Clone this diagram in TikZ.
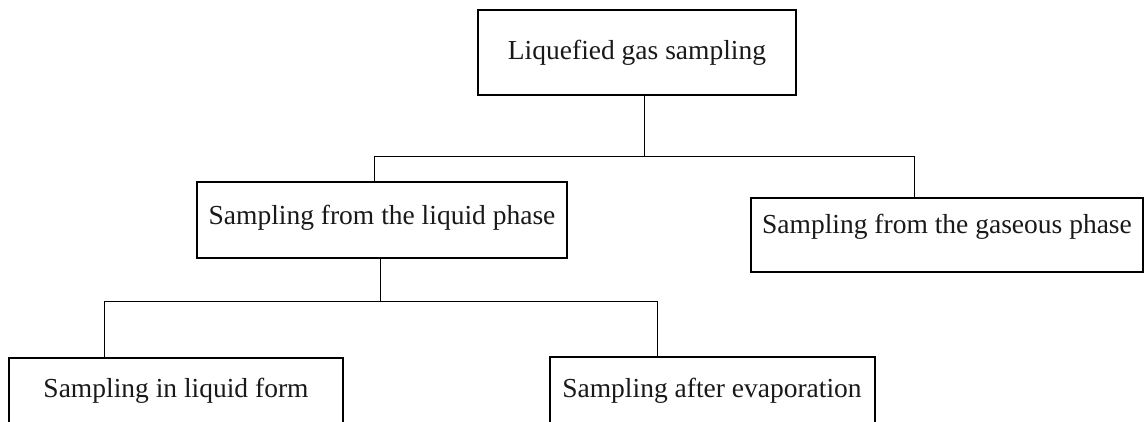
\documentclass[tikz,border=0pt]{standalone}
\usepackage{fontspec}
\setmainfont{Liberation Serif}
\tikzset{
  box/.style={draw=black, line width=2pt, rectangle, inner xsep=0pt, inner ysep=0pt,
    anchor=base, font=\fontsize{27.5pt}{30pt}\selectfont, text=black!90},
  conn/.style={draw=black, line width=1pt}
}
\begin{document}
\begin{tikzpicture}
\useasboundingbox (0pt,0pt) rectangle (1145pt,421pt);
\node[box, minimum width=318pt, text height=50pt, text depth=35pt] (top) at (637pt,361pt) {Liquefied gas sampling};
\node[box, minimum width=370pt, text height=42pt, text depth=34pt] (liq) at (382pt,197pt) {Sampling from the liquid phase};
\node[box, minimum width=392pt, text height=35pt, text depth=39pt] (gas) at (947pt,188pt) {Sampling from the gaseous phase};
\node[box, minimum width=334pt, text height=39pt, text depth=40pt] (bl) at (176pt,24pt) {Sampling in liquid form};
\node[box, minimum width=325pt, text height=40pt, text depth=40pt] (br) at (712pt,24pt) {Sampling after evaporation};
\coordinate (j1) at (644pt,264pt);
\coordinate (hl) at (374pt,264pt);
\coordinate (hr) at (914pt,264pt);
\coordinate (j2) at (380pt,120pt);
\coordinate (bl1) at (104pt,120pt);
\coordinate (br1) at (657pt,120pt);
\draw[conn] (j1 |- top.south) -- (j1);
\draw[conn] (hl |- liq.north) -- (hl) -- (hr) -- (hr |- gas.north);
\draw[conn] (j2 |- liq.south) -- (j2);
\draw[conn] (bl1 |- bl.north) -- (bl1) -- (br1) -- (br1 |- br.north);
\end{tikzpicture}
\end{document}
